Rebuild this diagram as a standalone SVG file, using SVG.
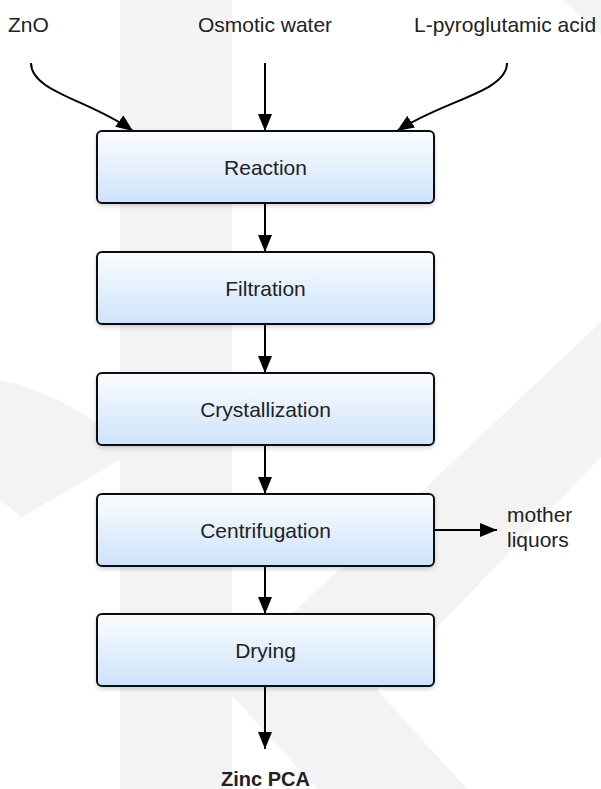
<svg xmlns="http://www.w3.org/2000/svg" width="601" height="789" viewBox="0 0 601 789">
<style>
.wm{fill:#f3f3f3;stroke:none}
.box{fill:url(#g);stroke:#111;stroke-width:2;filter:url(#sh)}
.lbl{font-family:"Liberation Sans",Arial,sans-serif;font-size:21px;fill:#222}
.c{text-anchor:middle}
.ln{fill:none;stroke:#000;stroke-width:2}
</style>
<defs>
<linearGradient id="g" x1="0" y1="0" x2="0" y2="1">
<stop offset="0" stop-color="#fbfdff"/>
<stop offset="1" stop-color="#cde3fb"/>
</linearGradient>
<filter id="sh" x="-10%" y="-10%" width="120%" height="130%">
<feDropShadow dx="0" dy="2" stdDeviation="2" flood-color="#000" flood-opacity="0.18"/>
</filter>
<marker id="ah" markerWidth="17" markerHeight="14" refX="17" refY="7" orient="auto" markerUnits="userSpaceOnUse">
<path d="M0,0 L17,7 L0,14 Z" fill="#000"/>
</marker>
</defs>
<rect width="601" height="789" fill="#fff"/>
<g id="watermark">
<rect class="wm" x="120" y="0" width="112" height="789"/>
<path class="wm" d="M0,380 Q60,392 120,440 L120,460 L22,517 L0,500 Z"/>
<path class="wm" d="M601,322 L220,682 L317,789 L467,789 L377,690 L601,457 Z"/>
<path class="wm" d="M563,0 L601,0 L601,35 Z"/>
</g>
<g id="inputs">
<text class="lbl" x="8" y="32">ZnO</text>
<text class="lbl c" x="265" y="32">Osmotic water</text>
<text class="lbl" x="414" y="32">L-pyroglutamic acid</text>
</g>
<g id="connectors">
<path class="ln" d="M31,63 C31,92 90,100 133,131" marker-end="url(#ah)"/>
<path class="ln" d="M265,63 L265,131" marker-end="url(#ah)"/>
<path class="ln" d="M507,63 C507,92 444,100 397,131" marker-end="url(#ah)"/>
<path class="ln" d="M265,203 L265,252" marker-end="url(#ah)"/>
<path class="ln" d="M265,324 L265,373" marker-end="url(#ah)"/>
<path class="ln" d="M265,445 L265,494" marker-end="url(#ah)"/>
<path class="ln" d="M265,566 L265,614" marker-end="url(#ah)"/>
<path class="ln" d="M265,686 L265,749" marker-end="url(#ah)"/>
<path class="ln" d="M434,530 L497,530" marker-end="url(#ah)"/>
</g>
<g id="reaction"><rect class="box" x="97" y="131" width="337" height="72" rx="5"/><text class="lbl c" x="265.5" y="174.5">Reaction</text></g>
<g id="filtration"><rect class="box" x="97" y="252" width="337" height="72" rx="5"/><text class="lbl c" x="265.5" y="295.5">Filtration</text></g>
<g id="crystallization"><rect class="box" x="97" y="373" width="337" height="72" rx="5"/><text class="lbl c" x="265.5" y="416.5">Crystallization</text></g>
<g id="centrifugation"><rect class="box" x="97" y="494" width="337" height="72" rx="5"/><text class="lbl c" x="265.5" y="537.5">Centrifugation</text></g>
<g id="drying"><rect class="box" x="97" y="614" width="337" height="72" rx="5"/><text class="lbl c" x="265.5" y="657.5">Drying</text></g>
<g id="mother-liquors"><text class="lbl" x="507" y="522">mother</text><text class="lbl" x="507" y="547">liquors</text></g>
<g id="zinc-pca"><text class="lbl c" x="265.5" y="786" style="font-weight:bold;font-size:20px">Zinc PCA</text></g>
</svg>
